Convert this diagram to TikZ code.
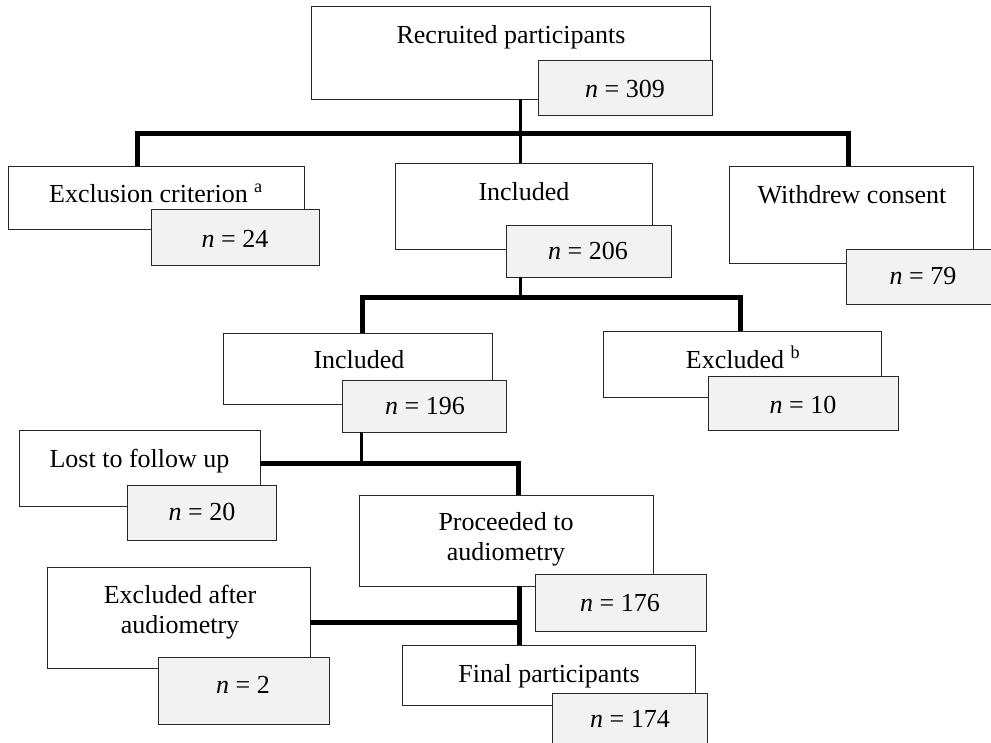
\documentclass[tikz,border=0pt]{standalone}
\usepackage{fontspec}
\setmainfont{Liberation Serif}
\definecolor{nfill}{RGB}{242,242,242}
\definecolor{edge}{RGB}{40,40,40}
\begin{document}
\begin{tikzpicture}[x=1pt,y=-1pt,
  box/.style={draw=edge, line width=0.9pt, fill=white, inner sep=0pt, outer sep=0pt},
  nbox/.style={box, fill=nfill},
  txt/.style={anchor=base, inner sep=0pt, font=\fontsize{26}{30}\selectfont, align=center},
  conn/.style={line width=5pt, draw=black},
  stem/.style={line width=3pt, draw=black}]
\useasboundingbox (0,0) rectangle (991,742);
\clip (0,0) rectangle (991,742);

% hubs and branch points
\coordinate (h1) at (520,133);
\coordinate (bL1) at (137,133);
\coordinate (bR1) at (848,133);
\coordinate (h2) at (520,297);
\coordinate (bL2) at (362,297);
\coordinate (bR2) at (740,297);
\coordinate (h3) at (361,463);
\coordinate (bR3) at (518,463);
\coordinate (h4) at (519,622);

% main boxes
\node[box, minimum width=399pt, minimum height=93pt] (rec) at (510.5,52.5) {};
\node[box, minimum width=296pt, minimum height=63pt] (exc) at (156,197.5) {};
\node[box, minimum width=257pt, minimum height=86pt] (inc1) at (523.5,206) {};
\node[box, minimum width=244pt, minimum height=97pt] (wd) at (851,214.5) {};
\node[box, minimum width=269pt, minimum height=71pt] (inc2) at (357.5,368.5) {};
\node[box, minimum width=278pt, minimum height=66pt] (exb) at (742,364) {};
\node[box, minimum width=241pt, minimum height=76pt] (lost) at (139.5,468) {};
\node[box, minimum width=294pt, minimum height=91pt] (proc) at (506,540.5) {};
\node[box, minimum width=263pt, minimum height=101pt] (exa) at (178.5,617.5) {};
\node[box, minimum width=293pt, minimum height=60pt] (fin) at (548.5,675) {};

% count boxes
\node[nbox, minimum width=174pt, minimum height=55pt] (n309) at (625,87.5) {};
\node[nbox, minimum width=168pt, minimum height=56pt] (n24) at (235,237) {};
\node[nbox, minimum width=165pt, minimum height=52pt] (n206) at (588.5,251) {};
\node[nbox, minimum width=154pt, minimum height=55pt] (n79) at (923,276.5) {};
\node[nbox, minimum width=164pt, minimum height=52pt] (n196) at (424,406) {};
\node[nbox, minimum width=190pt, minimum height=54pt] (n10) at (803,403) {};
\node[nbox, minimum width=149pt, minimum height=55pt] (n20) at (201.5,512.5) {};
\node[nbox, minimum width=171pt, minimum height=57pt] (n176) at (620.5,602.5) {};
\node[nbox, minimum width=171pt, minimum height=67pt] (n2) at (243.5,690.5) {};
\node[nbox, minimum width=155pt, minimum height=55pt] (n174) at (629.5,720.5) {};

% connectors
\draw[stem] (rec.south -| h1) -- (inc1.north -| h1);
\draw[conn] (exc.north -| bL1) -- (bL1) -- (bR1) -- (wd.north -| bR1);
\draw[stem] (n206.south -| h2) -- (h2);
\draw[conn] (inc2.north -| bL2) -- (bL2) -- (bR2) -- (exb.north -| bR2);
\draw[stem] (n196.south -| h3) -- (h3);
\draw[conn] (lost.east |- h3) -- (bR3) -- (proc.north -| bR3);
\draw[conn] (proc.south -| h4) -- (fin.north -| h4);
\draw[conn] (exa.east |- h4) -- (h4);

% texts
\node[txt] (trec) at (511,43) {Recruited participants};
\node[txt] (tn309) at (625,97) {\textit{n} = 309};
\node[txt] (texc) at (156,202) {Exclusion criterion \textsuperscript{a}};
\node[txt] (tn24) at (235,247) {\textit{n} = 24};
\node[txt] (tinc1) at (524,200) {Included};
\node[txt] (tn206) at (588,259) {\textit{n} = 206};
\node[txt] (twd) at (852,203) {Withdrew consent};
\node[txt] (tn79) at (923,284) {\textit{n} = 79};
\node[txt] (tinc2) at (359,368) {Included};
\node[txt] (tn196) at (425,414) {\textit{n} = 196};
\node[txt] (texb) at (743,368) {Excluded \textsuperscript{b}};
\node[txt] (tn10) at (803,413) {\textit{n} = 10};
\node[txt] (tlost) at (139.5,467) {Lost to follow up};
\node[txt] (tn20) at (202,520) {\textit{n} = 20};
\node[txt] (tproc) at (506,560) {Proceeded to\\audiometry};
\node[txt] (tn176) at (620,611) {\textit{n} = 176};
\node[txt] (texa) at (180,633) {Excluded after\\audiometry};
\node[txt] (tn2) at (243,693) {\textit{n} = 2};
\node[txt] (tfin) at (549,682) {Final participants};
\node[txt] (tn174) at (630,727) {\textit{n} = 174};
\end{tikzpicture}
\end{document}
